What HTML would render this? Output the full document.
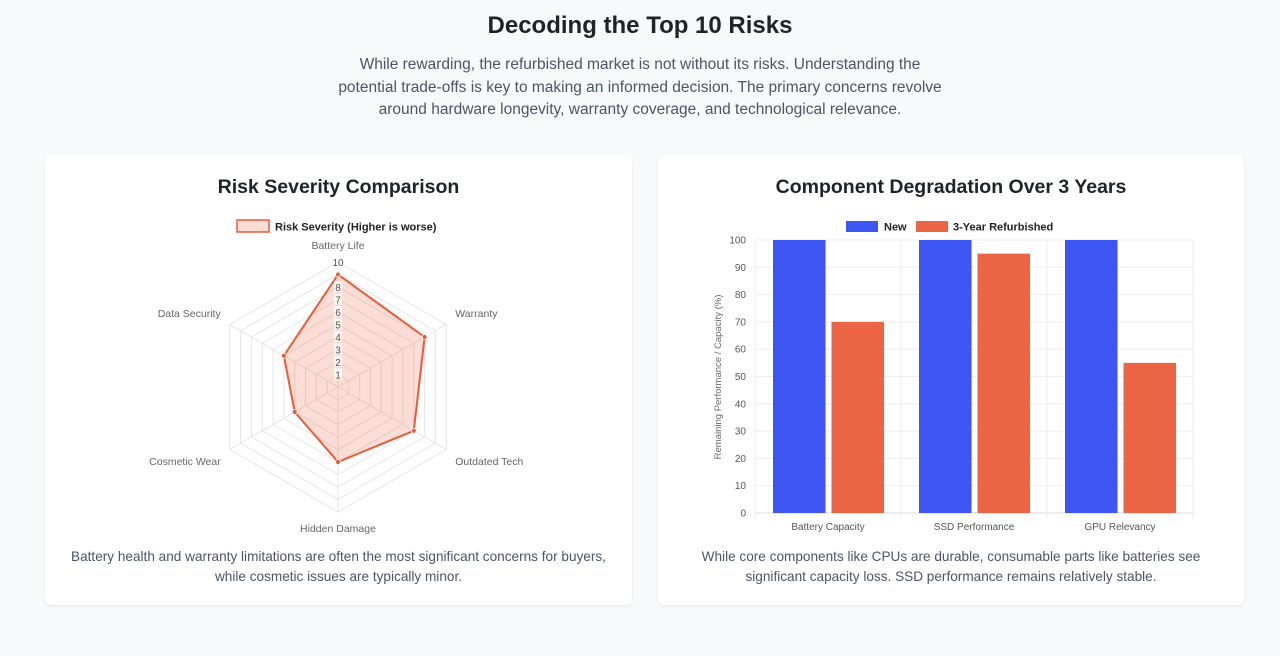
<!DOCTYPE html>
<html><head><meta charset="utf-8">
<style>
body{margin:0;width:1280px;height:656px;background:#f8f9fb;font-family:"Liberation Sans",sans-serif;color:#1f2328;overflow:hidden;position:relative}
h1{position:absolute;top:12px;left:0;width:1280px;text-align:center;margin:0;font-size:24px;font-weight:bold;color:#1f2328}
.intro{position:absolute;top:54px;left:0;width:1280px;text-align:center;font-size:15.5px;line-height:22.5px;color:#4b5563;margin:0}
.card{position:absolute;top:155px;height:450px;width:587px;background:#fff;border-radius:6px;box-shadow:0 1px 3px rgba(0,0,0,.08)}
.card h2{position:absolute;margin:0;font-size:19.5px;font-weight:bold;text-align:center;width:100%;top:21px}
.card p{position:absolute;top:392px;margin:0;width:100%;text-align:center;font-size:13.6px;line-height:20px;color:#4b5563}
svg{position:absolute;left:0;top:0}
</style></head><body>
<h1>Decoding the Top 10 Risks</h1>
<p class="intro">While rewarding, the refurbished market is not without its risks. Understanding the<br>potential trade-offs is key to making an informed decision. The primary concerns revolve<br>around hardware longevity, warranty coverage, and technological relevance.</p>

<div class="card" style="left:45px">
<h2>Risk Severity Comparison</h2>
<p>Battery health and warranty limitations are often the most significant concerns for buyers,<br>while cosmetic issues are typically minor.</p>
</div>
<div class="card" style="left:658px;width:586px">
<h2>Component Degradation Over 3 Years</h2>
<p>While core components like CPUs are durable, consumable parts like batteries see<br>significant capacity loss. SSD performance remains relatively stable.</p>
</div>
<svg id="chart" width="1280" height="656"></svg>
<script>
const radarLabels=["Battery Life","Warranty","Outdated Tech","Hidden Damage","Cosmetic Wear","Data Security"];
const radarValues=[9,8,7,6,4,5];
const radarTicks=[1,2,3,4,5,6,7,8,9,10];
const barCats=["Battery Capacity","SSD Performance","GPU Relevancy"];
const newVals=[100,100,100];
const refVals=[70,95,55];
const yTicks=[0,10,20,30,40,50,60,70,80,90,100];

const NS="http://www.w3.org/2000/svg";
const svg=document.getElementById('chart');
function mk(t,a,txt){const e=document.createElementNS(NS,t);for(const k in a)e.setAttribute(k,a[k]);if(txt!=null)e.textContent=txt;svg.appendChild(e);return e;}
// radar
const cx=338,cy=387,R=125,max=10;
function pt(i,v){const a=-Math.PI/2+i*Math.PI/3;return [cx+Math.cos(a)*R*v/max,cy+Math.sin(a)*R*v/max];}
radarTicks.forEach(t=>{const p=radarLabels.map((_,i)=>pt(i,t).join(',')).join(' ');
 const g=mk('polygon',{points:p,fill:'none',stroke:'#e5e5e5','stroke-width':1});
 
 });
const offs=[[0,-13],[9,-7.5],[9,15.5],[0,20],[-9,15.5],[-9,-7.5]];
radarLabels.forEach((l,i)=>{const [x,y]=pt(i,max);const s=mk('line',{x1:cx,y1:cy,x2:x,y2:y,stroke:'#e5e5e5'});
 
 
 const anc=i==0||i==3?'middle':(i<3?'start':'end');
 const t=mk('text',{x:x+offs[i][0],y:y+offs[i][1],'text-anchor':anc,'font-size':10.5,fill:'#666'},l);
 
 });
const dp=radarValues.map((v,i)=>pt(i,v).join(',')).join(' ');
const poly=mk('polygon',{points:dp,fill:'rgba(235,100,65,0.22)',stroke:'#eb5a36','stroke-width':2,'stroke-linejoin':'round'});


radarTicks.forEach(t=>{if(t==9)return;const y=cy-R*t/max;
 const b=mk('rect',{x:cx-(t==10?7:4),y:y-6,width:t==10?14:8,height:11,fill:'rgba(255,255,255,0.75)'});
 
 
 const tx=mk('text',{x:cx,y:y+4,'text-anchor':'middle','font-size':10,fill:'#555'},t);
 
 });
radarValues.forEach((v,i)=>{const [x,y]=pt(i,v);const c=mk('circle',{cx:x,cy:y,r:2.5,fill:'#eb5a36',stroke:'#fff','stroke-width':0.8});
 
 });
let lg=mk('rect',{x:237,y:220,width:32,height:12,fill:'rgba(235,100,65,0.22)',stroke:'#eb5a36','stroke-width':1.5});


lg=mk('text',{x:275,y:230.5,'font-size':11,'font-weight':'bold',fill:'#222'},'Risk Severity (Higher is worse)');


// bars
const x0=755,x1=1193,yTop=240,yBot=513,cw=(x1-x0)/barCats.length;
const ys=v=>yBot-(yBot-yTop)*v/100;
yTicks.forEach(t=>{const y=ys(t);const l=mk('line',{x1:x0,x2:x1,y1:y,y2:y,stroke:t==0?'#ddd':'#eee'});
 
 
 const tx=mk('text',{x:746,y:y+3.5,'text-anchor':'end','font-size':10,fill:'#555'},t);
 
 });
for(let i=0;i<=barCats.length;i++){const x=x0+i*cw;const l=mk('line',{x1:x,x2:x,y1:yTop,y2:yBot+6,stroke:'#eee'});
 
 }
barCats.forEach((c,i)=>{const cxm=x0+cw*i;
 const b1=mk('rect',{x:cxm+18,y:ys(newVals[i]),width:52.5,height:yBot-ys(newVals[i]),fill:'#3d55f2'});
 
 
 const b2=mk('rect',{x:cxm+76.5,y:ys(refVals[i]),width:52.5,height:yBot-ys(refVals[i]),fill:'#eb6443'});
 
 
 const t=mk('text',{x:cxm+cw/2,y:530,'text-anchor':'middle','font-size':10,fill:'#555'},c);
 
 });
let yt=mk('text',{x:0,y:0,'text-anchor':'middle','font-size':9.5,fill:'#666',transform:'translate(721,377) rotate(-90)'},'Remaining Performance / Capacity (%)');


let s=mk('rect',{x:846,y:221,width:32,height:11,fill:'#3d55f2'});


s=mk('text',{x:884,y:230.5,'font-size':11,'font-weight':'bold',fill:'#222'},'New');


s=mk('rect',{x:916,y:221,width:32,height:11,fill:'#eb6443'});


s=mk('text',{x:953,y:230.5,'font-size':11,'font-weight':'bold',fill:'#222'},'3-Year Refurbished');


</script>
</body></html>
